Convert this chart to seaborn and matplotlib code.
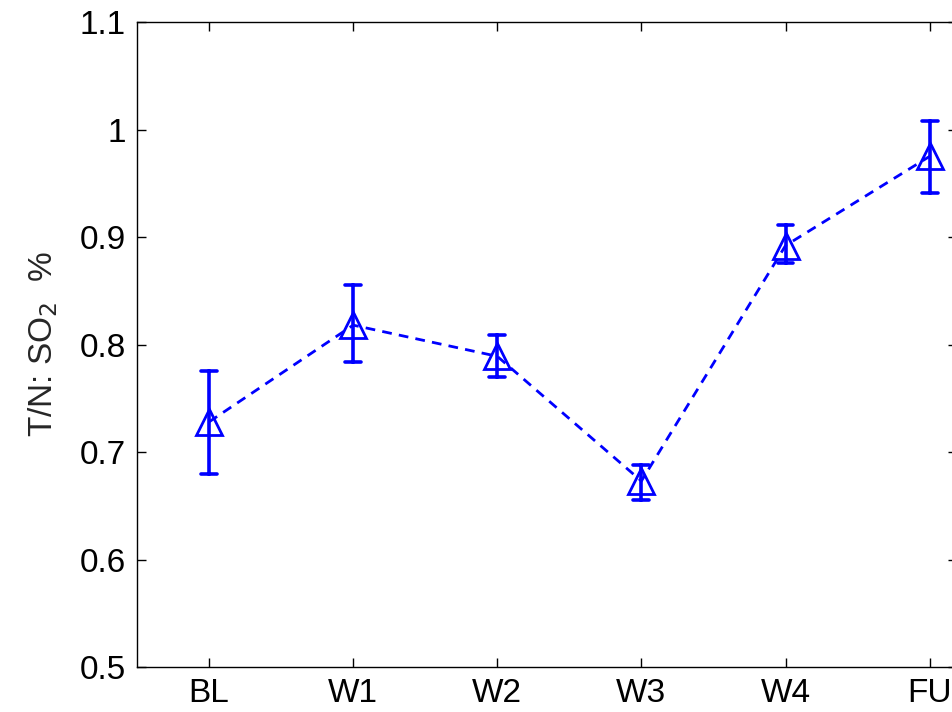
import numpy as np
import pandas as pd
import matplotlib
matplotlib.use("Agg")
import matplotlib.pyplot as plt
import seaborn as sns

# visits and T/N SO2 values
visits = ["BL", "W1", "W2", "W3", "W4", "FU"]
mean_vals = [0.728, 0.818, 0.789, 0.673, 0.892, 0.975]
lower_vals = [0.680, 0.784, 0.770, 0.655, 0.876, 0.941]
upper_vals = [0.775, 0.855, 0.809, 0.688, 0.911, 1.008]

# three rows per visit: lower, mean, upper -> median = mean, range = error bar
rows = []
for v, lo, m, hi in zip(visits, lower_vals, mean_vals, upper_vals):
    for val in (lo, m, hi):
        rows.append({"visit": v, "value": val})
data = pd.DataFrame(rows)

sns.set_style("ticks")
plt.rcParams['font.family'] = ['Liberation Sans', 'DejaVu Sans']

fig = plt.figure(figsize=(9.53, 7.12), dpi=100)
ax = fig.add_axes([137/953, 1-667/712, (957-137)/953, 645/712])

sns.pointplot(data=data, x="visit", y="value", order=visits,
              estimator="median", errorbar=lambda x: (x.min(), x.max()),
              color=(0, 0, 1), markers="^", linestyles=(0, (3.5, 2.6)),
              capsize=0.11, linewidth=2.0,
              err_kws={'linewidth': 2.6},
              markersize=19, markerfacecolor="none", markeredgewidth=2.0,
              ax=ax)

ax.set_xlim(-0.5, 5.19)
ax.set_ylim(0.5, 1.1)
ax.set_yticks(np.arange(0.5, 1.11, 0.1))
ax.set_yticklabels(["0.5", "0.6", "0.7", "0.8", "0.9", "1", "1.1"])
ax.set_xlabel("")
ax.set_ylabel("T/N: SO$_2$  %", fontsize=24, labelpad=14)
ax.tick_params(direction="in", length=6.5, width=1, labelsize=24,
               top=True, right=True, pad=8, colors="black")
for s in ax.spines.values():
    s.set_visible(True)
    s.set_linewidth(1)
    s.set_color("black")

fig.savefig("out.png", dpi=100)
